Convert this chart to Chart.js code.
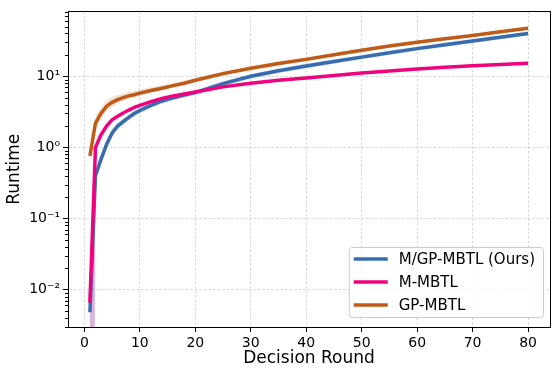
<!DOCTYPE html>
<html>
<head>
<meta charset="utf-8">
<script src="https://cdn.jsdelivr.net/npm/chart.js@4"></script>
<style>
  html, body { margin: 0; padding: 0; background: #fff; }
  canvas { display: block; }
</style>
</head>
<body>
<canvas id="runtime-chart" width="558" height="375"></canvas>
<script>
const rounds = [1, 2, 3, 4, 5, 6, 7, 8, 9, 10, 12, 14, 16, 18, 20, 25, 30, 35, 40, 45, 50, 55, 60, 65, 70, 75, 80];

// M/GP-MBTL (Ours)
const oursMean = [0.0048, 0.40, 0.68, 1.1, 1.6, 2.0, 2.3, 2.65, 3.0, 3.3, 3.9, 4.5, 5.0, 5.45, 5.9, 7.9, 10.0, 12.0, 14.0, 16.2, 18.6, 21.4, 24.5, 27.8, 31.4, 35.5, 40.0];
const oursLow = [1e-20, 0.33, 0.58, 0.95, 1.4, 1.78, 2.05, 2.4, 2.72, 3.0, 3.55, 4.1, 4.57, 5.0, 5.4, 7.25, 9.2, 11.1, 12.9, 15.0, 17.3, 19.9, 22.8, 25.9, 29.3, 33.2, 37.4];
const oursHigh = [0.0056, 0.47, 0.78, 1.25, 1.8, 2.22, 2.55, 2.9, 3.28, 3.6, 4.25, 4.9, 5.43, 5.9, 6.4, 8.55, 10.8, 12.9, 15.1, 17.4, 19.9, 22.9, 26.2, 29.7, 33.5, 37.8, 42.6];

// M-MBTL
const mMean = [0.0066, 1.0, 1.5, 2.0, 2.45, 2.75, 3.05, 3.35, 3.65, 3.9, 4.4, 4.9, 5.3, 5.65, 6.0, 7.1, 8.0, 8.8, 9.5, 10.3, 11.1, 11.9, 12.7, 13.4, 14.1, 14.7, 15.2];
const mLow = [1e-20, 0.9, 1.4, 1.9, 2.35, 2.65, 2.95, 3.25, 3.55, 3.8, 4.3, 4.8, 5.2, 5.55, 5.9, 7.0, 7.85, 8.65, 9.35, 10.1, 10.9, 11.7, 12.5, 13.2, 13.9, 14.5, 15.0];
const mHigh = [0.009, 1.1, 1.6, 2.1, 2.55, 2.85, 3.15, 3.45, 3.75, 4.0, 4.5, 5.0, 5.4, 5.75, 6.1, 7.2, 8.15, 8.95, 9.65, 10.5, 11.3, 12.1, 12.9, 13.6, 14.3, 14.9, 15.4];

// GP-MBTL
const gpMean = [0.76, 2.2, 3.0, 3.8, 4.3, 4.7, 5.0, 5.3, 5.5, 5.8, 6.3, 6.8, 7.4, 8.0, 8.8, 10.9, 13.0, 15.1, 17.3, 20.1, 23.2, 26.6, 30.2, 33.8, 37.5, 42.2, 47.5];
const gpLow = [0.65, 1.8, 2.5, 3.2, 3.7, 4.1, 4.45, 4.75, 5.0, 5.3, 5.8, 6.3, 6.9, 7.5, 8.2, 10.2, 12.2, 14.2, 16.3, 19.0, 22.0, 25.2, 28.7, 32.2, 35.7, 40.2, 45.3];
const gpHigh = [0.9, 2.75, 3.65, 4.55, 5.05, 5.45, 5.75, 6.05, 6.25, 6.5, 7.0, 7.5, 8.1, 8.7, 9.5, 11.7, 13.9, 16.1, 18.4, 21.3, 24.5, 28.1, 31.9, 35.5, 39.4, 44.3, 49.8];

const seriesNames = ['M/GP-MBTL (Ours)', 'M-MBTL', 'GP-MBTL'];
const xTicks = [0, 10, 20, 30, 40, 50, 60, 70, 80];
const yTicks = [0.01, 0.1, 1, 10];
const yTickLabels = ['10\u207B\u00B2', '10\u207B\u00B9', '10\u2070', '10\u00B9'];

const lineColors = ['#386cb0', '#f0027f', '#bf5b17'];
const bandColors = ['rgba(56,108,176,0.22)', 'rgba(240,2,127,0.2)', 'rgba(191,91,23,0.18)'];
const FONT = "'DejaVu Sans', sans-serif";

function pts(arr) {
    return rounds.map((r, i) => ({ x: r, y: arr[i] }));
}

const means = [oursMean, mMean, gpMean];
const lows = [oursLow, mLow, gpLow];
const highs = [oursHigh, mHigh, gpHigh];

const datasets = [];
// shaded bands first (upper fills down to the next dataset = lower)
for (let i = 0; i < 3; i++) {
    datasets.push({
        label: seriesNames[i] + ' hi', data: pts(highs[i]),
        fill: '+1', backgroundColor: bandColors[i], borderWidth: 0,
        pointRadius: 0, order: 12 - i
    });
    datasets.push({
        label: seriesNames[i] + ' lo', data: pts(lows[i]),
        fill: false, borderWidth: 0, pointRadius: 0, order: 12 - i
    });
}
// mean lines, orange drawn on top
for (let i = 0; i < 3; i++) {
    datasets.push({
        label: seriesNames[i], data: pts(means[i]),
        borderColor: lineColors[i], borderWidth: 3.5, fill: false,
        pointRadius: 0, tension: 0, order: 2 - i
    });
}

const frameAndLegend = {
    id: 'frameAndLegend',
    afterDraw(chart) {
        const { ctx, chartArea: a, scales: { y } } = chart;
        ctx.save();
        // full box
        ctx.strokeStyle = '#000';
        ctx.lineWidth = 1;
        ctx.strokeRect(Math.round(a.left) + 0.5, Math.round(a.top) + 0.5,
            Math.round(a.right - a.left), Math.round(a.bottom - a.top));

        // minor log ticks
        ctx.beginPath();
        for (let d = -3; d <= 2; d++) {
            for (let k = 2; k <= 9; k++) {
                const v = k * Math.pow(10, d);
                if (v < y.min || v > y.max) continue;
                const py = Math.round(y.getPixelForValue(v)) + 0.5;
                ctx.moveTo(a.left - 3, py);
                ctx.lineTo(a.left, py);
            }
        }
        ctx.stroke();

        // legend
        ctx.font = '15px ' + FONT;
        const textW = Math.max(...seriesNames.map(n => ctx.measureText(n).width));
        const rowH = 23, handleLen = 34;
        const boxW = 5 + handleLen + 11 + textW + 8;
        const boxH = 70;
        const bx = a.right - 7 - boxW;
        const by = a.bottom - 10 - boxH;
        ctx.fillStyle = 'rgba(255,255,255,0.8)';
        ctx.strokeStyle = '#cccccc';
        ctx.beginPath();
        if (ctx.roundRect) ctx.roundRect(bx + 0.5, by + 0.5, boxW, boxH, 3);
        else ctx.rect(bx + 0.5, by + 0.5, boxW, boxH);
        ctx.fill();
        ctx.stroke();
        ctx.textBaseline = 'middle';
        ctx.textAlign = 'left';
        seriesNames.forEach((name, i) => {
            const cy = by + 12 + i * rowH;
            ctx.strokeStyle = lineColors[i];
            ctx.lineWidth = 3.5;
            ctx.beginPath();
            ctx.moveTo(bx + 5, cy);
            ctx.lineTo(bx + 5 + handleLen, cy);
            ctx.stroke();
            ctx.fillStyle = '#000';
            ctx.fillText(name, bx + 5 + handleLen + 11, cy + 1);
        });
        ctx.restore();
    }
};

const ctx = document.getElementById('runtime-chart').getContext('2d');
new Chart(ctx, {
    type: 'line',
    data: { datasets },
    options: {
        responsive: false,
        animation: false,
        layout: { padding: { top: 6, right: 8, left: 0, bottom: 0 } },
        plugins: {
            legend: { display: false },
            tooltip: { enabled: false }
        },
        scales: {
            x: {
                type: 'linear',
                min: -2.95,
                max: 83.95,
                afterBuildTicks: s => { s.ticks = xTicks.map(v => ({ value: v })); },
                afterFit: s => { s.height = 48; },
                ticks: {
                    color: '#000', padding: 3, maxRotation: 0,
                    font: { family: FONT, size: 14 }
                },
                grid: {
                    color: 'rgba(185,185,185,0.75)', lineWidth: 0.8,
                    tickColor: '#000', tickLength: 5, tickWidth: 1, tickBorderDash: []
                },
                border: { color: '#000', width: 1, dash: [2.5, 2] },
                title: {
                    display: true, text: 'Decision Round', color: '#000',
                    font: { family: FONT, size: 17 }, padding: { top: 0, bottom: 6 }
                }
            },
            y: {
                type: 'logarithmic',
                min: 0.00298,
                max: 81.8,
                afterBuildTicks: s => { s.ticks = yTicks.map(v => ({ value: v, major: true })); },
                afterFit: s => { s.width = 68; },
                ticks: {
                    color: '#000', padding: 3,
                    font: { family: FONT, size: 14 },
                    callback: v => {
                        const i = yTicks.indexOf(v);
                        return i >= 0 ? yTickLabels[i] : '';
                    }
                },
                grid: {
                    color: 'rgba(185,185,185,0.75)', lineWidth: 0.8,
                    tickColor: '#000', tickLength: 5, tickWidth: 1, tickBorderDash: []
                },
                border: { color: '#000', width: 1, dash: [2.5, 2] },
                title: {
                    display: true, text: 'Runtime', color: '#000',
                    font: { family: FONT, size: 17 }, padding: { top: 4, bottom: 0 }
                }
            }
        }
    },
    plugins: [frameAndLegend]
});
</script>
</body>
</html>
